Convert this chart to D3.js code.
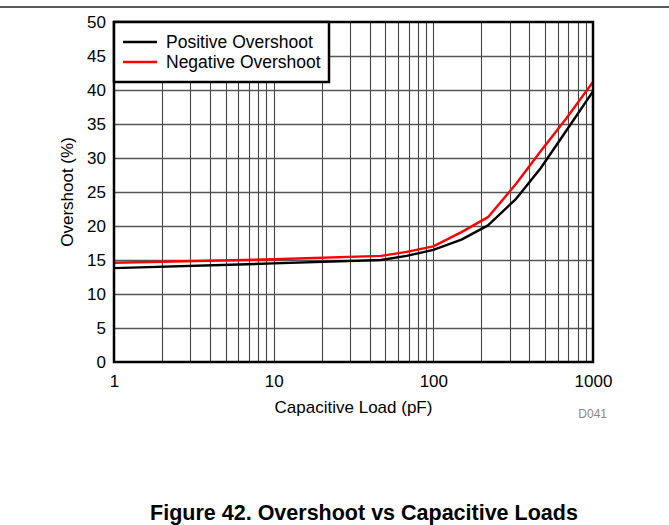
<!DOCTYPE html>
<html>
<head>
<meta charset="utf-8">
<style>
  body { margin: 0; background: #fff; }
  text { font-family: "Liberation Sans", Arial, sans-serif; }
</style>
</head>
<body>
<svg width="669" height="525"></svg>
<script src="https://d3js.org/d3.v7.min.js"></script>
<script>
// values
var capLoad = [1, 10, 47, 68, 100, 150, 220, 330, 470, 680, 1000];
var positiveOvershoot = [13.8, 14.5, 15.0, 15.6, 16.5, 18.0, 20.1, 24.0, 28.5, 34.0, 39.8];
var negativeOvershoot = [14.6, 15.1, 15.6, 16.2, 17.0, 19.1, 21.3, 26.2, 31.0, 35.8, 41.2];
var xTicks = [1, 10, 100, 1000];
var yTicks = [0, 5, 10, 15, 20, 25, 30, 35, 40, 45, 50];
var seriesNames = ["Positive Overshoot", "Negative Overshoot"];
var seriesColors = ["#000000", "#ff0000"];

var svg = d3.select("svg");
var margin = {top: 22, left: 114, right: 76, bottom: 163},
    width = 669 - margin.left - margin.right,
    height = 525 - margin.top - margin.bottom;

var x = d3.scaleLog().domain([1, 1000]).range([0, width]);
var y = d3.scaleLinear().domain([0, 50]).range([height, 0]);

// rule at the very top of the page
svg.append("line")
    .attr("x1", 0).attr("x2", 669)
    .attr("y1", 7).attr("y2", 7)
    .attr("stroke", "#222").attr("stroke-width", 1.5);

var g = svg.append("g").attr("transform", "translate(" + margin.left + "," + margin.top + ")");

// vertical grid: 1..9 per decade
var minor = [];
[1, 10, 100].forEach(function(dec) {
  for (var k = 2; k <= 9; k++) minor.push(dec * k);
});
minor.push(10, 100);
g.selectAll(".vgrid").data(minor).enter().append("line")
    .attr("class", "vgrid")
    .attr("x1", function(d) { return Math.round(x(d)) + 0.5; })
    .attr("x2", function(d) { return Math.round(x(d)) + 0.5; })
    .attr("y1", 0).attr("y2", height)
    .attr("stroke", "#444").attr("stroke-width", 1.1);

g.selectAll(".hgrid").data(yTicks.slice(1, -1)).enter().append("line")
    .attr("class", "hgrid")
    .attr("x1", 0).attr("x2", width)
    .attr("y1", function(d) { return Math.round(y(d)) + 0.5; })
    .attr("y2", function(d) { return Math.round(y(d)) + 0.5; })
    .attr("stroke", "#555").attr("stroke-width", 1.3);

// axes (labels only, ticks hidden)
var xAxis = g.append("g")
    .attr("transform", "translate(0," + height + ")")
    .call(d3.axisBottom(x).tickValues(xTicks).tickFormat(d3.format("d")).tickSize(0).tickPadding(13));
xAxis.select(".domain").remove();
xAxis.selectAll("text").style("font-size", "17px").attr("fill", "#000")
    .attr("font-family", "Liberation Sans, Arial, sans-serif");

var yAxis = g.append("g")
    .call(d3.axisLeft(y).tickValues(yTicks).tickSize(0).tickPadding(8));
yAxis.select(".domain").remove();
yAxis.selectAll("text").style("font-size", "17px").attr("fill", "#000")
    .attr("font-family", "Liberation Sans, Arial, sans-serif");

// series
var line = d3.line()
    .x(function(d) { return x(d[0]); })
    .y(function(d) { return y(d[1]); });

[positiveOvershoot, negativeOvershoot].forEach(function(vals, i) {
  g.append("path")
      .datum(capLoad.map(function(c, j) { return [c, vals[j]]; }))
      .attr("fill", "none")
      .attr("stroke", seriesColors[i])
      .attr("stroke-width", 2.4)
      .attr("stroke-linejoin", "round")
      .attr("d", line);
});

// plot frame
g.append("rect")
    .attr("x", 0).attr("y", 0)
    .attr("width", width).attr("height", height)
    .attr("fill", "none").attr("stroke", "#000").attr("stroke-width", 2.5);

// legend
var legend = g.append("g");
legend.append("rect")
    .attr("x", 0).attr("y", 0)
    .attr("width", 215).attr("height", 60)
    .attr("fill", "#fff").attr("stroke", "#000").attr("stroke-width", 2.5);
seriesNames.forEach(function(name, i) {
  legend.append("line")
      .attr("x1", 9).attr("x2", 43)
      .attr("y1", 20 + i * 20).attr("y2", 20 + i * 20)
      .attr("stroke", seriesColors[i]).attr("stroke-width", 2.4);
  legend.append("text")
      .attr("x", 52).attr("y", 26 + i * 20)
      .style("font-size", "17.5px")
      .text(name);
});

// axis titles
svg.append("text")
    .attr("x", margin.left + width / 2).attr("y", 413)
    .attr("text-anchor", "middle")
    .style("font-size", "17px")
    .text("Capacitive Load (pF)");

svg.append("text")
    .attr("transform", "translate(73," + (margin.top + height / 2) + ") rotate(-90)")
    .attr("text-anchor", "middle")
    .style("font-size", "17px")
    .text("Overshoot (%)");

svg.append("text")
    .attr("x", 607).attr("y", 418)
    .attr("text-anchor", "end")
    .attr("fill", "#888")
    .style("font-size", "12px")
    .text("D041");

svg.append("text")
    .attr("x", 364).attr("y", 520)
    .attr("text-anchor", "middle")
    .style("font-size", "21.5px")
    .style("font-weight", "bold")
    .text("Figure 42. Overshoot vs Capacitive Loads");
</script>
</body>
</html>
